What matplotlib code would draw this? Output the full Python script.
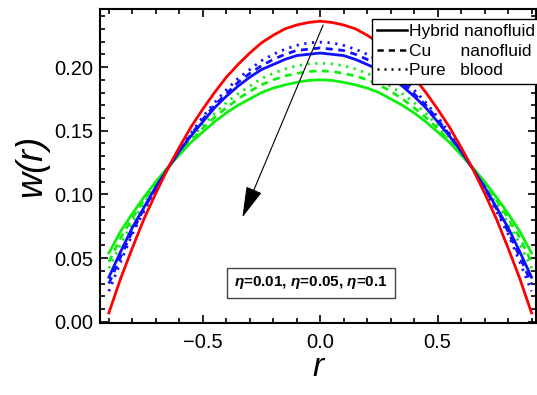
import numpy as np
import matplotlib.pyplot as plt
from matplotlib.ticker import MultipleLocator

plt.rcParams['font.family'] = ['Liberation Sans', 'DejaVu Sans']
plt.rcParams['mathtext.fontset'] = 'custom'
plt.rcParams['mathtext.rm'] = 'Liberation Sans'
plt.rcParams['mathtext.it'] = 'Liberation Sans:italic:bold'
plt.rcParams['mathtext.bf'] = 'Liberation Sans:bold'

# radial positions
r = [-0.9, -0.85, -0.8, -0.75, -0.7, -0.65, -0.6, -0.55, -0.5, -0.45,
     -0.4, -0.35, -0.3, -0.25, -0.2, -0.15, -0.1, -0.05, 0.0,
     0.05, 0.1, 0.15, 0.2, 0.25, 0.3, 0.35, 0.4, 0.45,
     0.5, 0.55, 0.6, 0.65, 0.7, 0.75, 0.8, 0.85, 0.9]

# eta = 0.01 (red)
w_red = [0.007, 0.034, 0.058, 0.081, 0.101, 0.120, 0.137, 0.153, 0.167, 0.180,
         0.192, 0.202, 0.211, 0.219, 0.225, 0.230, 0.233, 0.235, 0.236,
         0.235, 0.233, 0.230, 0.225, 0.219, 0.211, 0.202, 0.192, 0.180,
         0.167, 0.153, 0.137, 0.120, 0.101, 0.081, 0.058, 0.034, 0.007]

# eta = 0.05 (blue): hybrid / Cu / pure blood
w_blue_hyb = [0.035, 0.055, 0.074, 0.090, 0.106, 0.120, 0.134, 0.146, 0.157, 0.168,
              0.177, 0.185, 0.192, 0.198, 0.202, 0.206, 0.209, 0.210, 0.211,
              0.210, 0.209, 0.206, 0.202, 0.198, 0.192, 0.185, 0.177, 0.168,
              0.157, 0.146, 0.134, 0.120, 0.106, 0.090, 0.074, 0.055, 0.035]
w_blue_cu = [0.030, 0.051, 0.071, 0.089, 0.105, 0.120, 0.134, 0.147, 0.159, 0.170,
             0.179, 0.188, 0.195, 0.201, 0.206, 0.210, 0.213, 0.214, 0.215,
             0.214, 0.213, 0.210, 0.206, 0.201, 0.195, 0.188, 0.179, 0.170,
             0.159, 0.147, 0.134, 0.120, 0.105, 0.089, 0.071, 0.051, 0.030]
w_blue_pure = [0.024, 0.047, 0.069, 0.087, 0.104, 0.120, 0.135, 0.148, 0.161, 0.172,
               0.182, 0.191, 0.198, 0.205, 0.210, 0.214, 0.217, 0.219, 0.2195,
               0.219, 0.217, 0.214, 0.210, 0.205, 0.198, 0.191, 0.182, 0.172,
               0.161, 0.148, 0.135, 0.120, 0.104, 0.087, 0.069, 0.047, 0.024]

# eta = 0.1 (green): hybrid / Cu / pure blood
w_green_hyb = [0.054, 0.071, 0.085, 0.098, 0.110, 0.121, 0.131, 0.141, 0.149, 0.157,
               0.164, 0.170, 0.175, 0.180, 0.1835, 0.186, 0.188, 0.1895, 0.190,
               0.1895, 0.188, 0.186, 0.1835, 0.180, 0.175, 0.170, 0.164, 0.157,
               0.149, 0.141, 0.131, 0.121, 0.110, 0.098, 0.085, 0.071, 0.054]
w_green_cu = [0.047, 0.066, 0.0815, 0.0955, 0.109, 0.121, 0.132, 0.142, 0.152, 0.1605,
              0.168, 0.175, 0.181, 0.186, 0.190, 0.193, 0.195, 0.1965, 0.197,
              0.1965, 0.195, 0.193, 0.190, 0.186, 0.181, 0.175, 0.168, 0.1605,
              0.152, 0.142, 0.132, 0.121, 0.109, 0.0955, 0.0815, 0.066, 0.047]
w_green_pure = [0.042, 0.061, 0.078, 0.093, 0.107, 0.1205, 0.133, 0.144, 0.154, 0.1635,
                0.172, 0.179, 0.185, 0.191, 0.195, 0.1985, 0.201, 0.2025, 0.203,
                0.2025, 0.201, 0.1985, 0.195, 0.191, 0.185, 0.179, 0.172, 0.1635,
                0.154, 0.144, 0.133, 0.1205, 0.107, 0.093, 0.078, 0.061, 0.042]

red = '#ff0000'
blue = '#1010ff'
green = '#10ee10'
lw = 2.0
dashed = (0, (2.5, 2))
dotted = (0, (0.8, 2))

fig = plt.figure(figsize=(5.37, 3.95), dpi=100)
ax = fig.add_axes([0.187, 0.182, 0.812, 0.795])

ax.plot(r, w_green_hyb, color=green, lw=lw, ls='-')
ax.plot(r, w_green_cu, color=green, lw=lw, ls=dashed)
ax.plot(r, w_green_pure, color=green, lw=lw, ls=dotted)
ax.plot(r, w_blue_hyb, color=blue, lw=lw, ls='-')
ax.plot(r, w_blue_cu, color=blue, lw=lw, ls=dashed)
ax.plot(r, w_blue_pure, color=blue, lw=lw, ls=dotted)
ax.plot(r, w_red, color=red, lw=lw, ls='-')

# legend (black handles)
h1, = ax.plot([], [], color='black', lw=1.8, ls='-')
h2, = ax.plot([], [], color='black', lw=1.8, ls=dashed)
h3, = ax.plot([], [], color='black', lw=1.8, ls=dotted)
leg = fig.legend([h1, h2, h3],
                 ['Hybrid nanofluid', 'Cu      nanofluid', 'Pure   blood'],
                 loc='upper left', bbox_to_anchor=(372 / 537, 1 - 19 / 395),
                 fontsize=12.5, handlelength=1.7, handletextpad=0.15,
                 labelspacing=0.25, borderpad=0.3, borderaxespad=0,
                 fancybox=False, framealpha=1, edgecolor='black')
leg.get_frame().set_linewidth(1.0)

ax.text(-0.04, 0.0305, r'$\eta$=0.01, $\eta$=0.05, $\eta$=0.1',
        fontsize=11, fontweight='bold', ha='center', va='center',
        bbox=dict(boxstyle='square,pad=0.45', fc='white', ec='#444444', lw=1.0))

ax.annotate('', xy=(-0.336, 0.080), xytext=(0.017, 0.235),
            arrowprops=dict(arrowstyle='-|>,head_length=1.3,head_width=0.35',
                            color='black', lw=0.8, mutation_scale=15))

ax.set_xlim(-0.936, 0.921)
ax.set_ylim(-0.001, 0.2455)
ax.xaxis.set_major_locator(MultipleLocator(0.5))
ax.xaxis.set_minor_locator(MultipleLocator(0.1))
ax.yaxis.set_major_locator(MultipleLocator(0.05))
ax.yaxis.set_minor_locator(MultipleLocator(0.01))
ax.xaxis.set_major_formatter(plt.FuncFormatter(lambda v, p: f'{v:.1f}'.replace('-', '\u2212')))
ax.yaxis.set_major_formatter(plt.FuncFormatter(lambda v, p: f'{v:.2f}'))
ax.tick_params(which='both', direction='in', top=True, right=True, width=1.2)
ax.tick_params(which='major', length=6, labelsize=14.5)
ax.tick_params(which='minor', length=3.5)
ax.tick_params(axis='x', pad=7)
ax.tick_params(axis='y', pad=5)
for s in ax.spines.values():
    s.set_linewidth(1.5)

ax.set_xlabel('r', fontsize=24, style='italic', labelpad=0)
ax.set_ylabel('w(r)', fontsize=26, style='italic', labelpad=4)

plt.savefig('out.png', dpi=100)
